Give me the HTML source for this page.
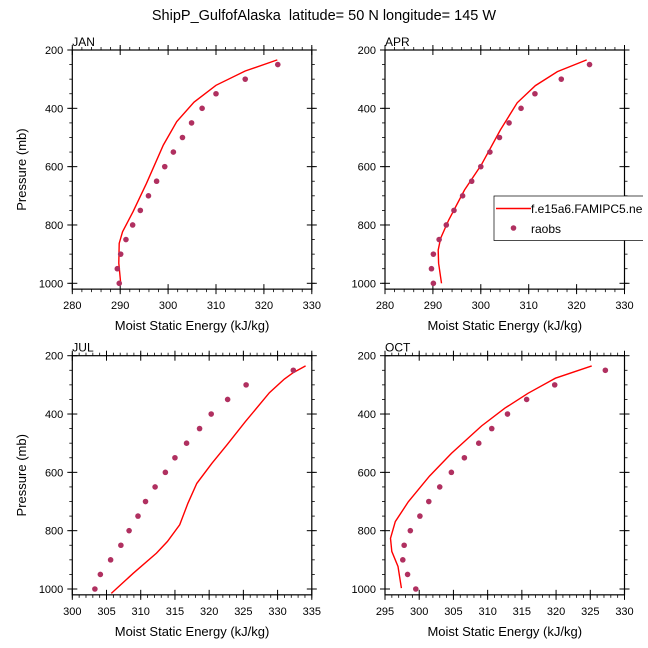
<!DOCTYPE html>
<html><head><meta charset="utf-8"><style>
html,body{margin:0;padding:0;background:#fff;}
svg{display:block;font-family:"Liberation Sans",Arial,sans-serif;}
</style></head><body>
<svg id="chart" width="648" height="648" viewBox="0 0 648 648">
<text x="324" y="20" text-anchor="middle" font-size="14.5">ShipP_GulfofAlaska&#160; latitude= 50 N longitude= 145 W</text>
</svg>
<script>
// ----- data -----
const obsP = [1000,950,900,850,800,750,700,650,600,550,500,450,400,350,300,250];
const janObs = [289.8,289.4,290.1,291.2,292.6,294.2,295.9,297.6,299.3,301.1,303.0,304.9,307.1,310.0,316.1,322.9];
const aprObs = [290.1,289.7,290.1,291.3,292.8,294.4,296.2,298.1,300.0,301.9,303.9,305.9,308.4,311.3,316.8,322.7];
const julObs = [303.3,304.1,305.6,307.1,308.3,309.6,310.7,312.1,313.6,315.0,316.7,318.6,320.3,322.7,325.4,332.3];
const octObs = [299.5,298.3,297.6,297.8,298.7,300.1,301.4,303.0,304.7,306.6,308.7,310.6,312.9,315.7,319.8,327.2];

const janModP = [234,272,321,379,446,526,657,754,823,863,931,1000];
const janMod  = [322.8,316.1,310.0,305.4,301.8,299.0,295.5,292.7,290.5,289.8,289.7,290.1];
const aprModP = [234,274,322,381,474,594,680,783,846,886,931,1000];
const aprMod  = [322.1,316.0,311.4,307.6,304.1,300.1,296.6,293.3,291.6,291.1,291.2,291.8];
const julModP = [235,258,280,327,426,506,569,638,706,780,837,877,946,1015];
const julMod  = [334.1,332.3,331.0,328.8,325.3,322.6,320.4,318.2,316.9,315.7,313.9,312.3,308.9,305.7];
const octModP = [235,277,329,380,441,535,613,701,769,826,871,923,997];
const octMod  = [325.2,319.9,315.9,312.5,309.1,304.7,301.5,298.4,296.5,295.8,296.0,296.9,297.4];

const yTicks = [200,400,600,800,1000];
const janXTicks = [280,290,300,310,320,330];
const julXTicks = [300,305,310,315,320,325,330,335];
const octXTicks = [295,300,305,310,315,320,325,330];

const svg = document.getElementById('chart');
const NS = 'http://www.w3.org/2000/svg';
function mk(tag, attrs, parent){const e=document.createElementNS(NS,tag);for(const k in attrs)e.setAttribute(k,attrs[k]);(parent||svg).appendChild(e);return e;}

const panels = [
 {name:'jan',label:'JAN',left:72.3,top:50,xmin:280,xmax:330,xt:janXTicks,minor:2,obs:janObs,mp:janModP,mv:janMod,ytitle:true},
 {name:'apr',label:'APR',left:385,top:50,xmin:280,xmax:330,xt:janXTicks,minor:2,obs:aprObs,mp:aprModP,mv:aprMod,ytitle:false},
 {name:'jul',label:'JUL',left:72.3,top:355.7,xmin:300,xmax:335,xt:julXTicks,minor:1,obs:julObs,mp:julModP,mv:julMod,ytitle:true},
 {name:'oct',label:'OCT',left:385,top:355.7,xmin:295,xmax:330,xt:octXTicks,minor:1,obs:octObs,mp:octModP,mv:octMod,ytitle:false}
];
const W=239.5, PS=233.3/800;
panels.forEach(p=>{
  const g=mk('g',{});
  
  
  const sx=v=>p.left+(v-p.xmin)/(p.xmax-p.xmin)*W;
  const sy=v=>p.top+(v-200)*PS;
  const bottom=sy(1020), right=p.left+W;
  const cp=mk('clipPath',{id:'clip-'+p.name},g);
  mk('rect',{x:p.left,y:p.top,width:W,height:bottom-p.top},cp);
  for(let v=p.xmin;v<=p.xmax+1e-6;v+=p.minor){
    const x=sx(v);
    mk('line',{x1:x,x2:x,y1:bottom,y2:bottom+3,stroke:'#000','stroke-width':0.8},g);
    mk('line',{x1:x,x2:x,y1:p.top,y2:p.top-3,stroke:'#000','stroke-width':0.8},g);
  }
  for(let v=250;v<=1000;v+=50){
    const y=sy(v);
    mk('line',{x1:p.left,x2:p.left-3,y1:y,y2:y,stroke:'#000','stroke-width':0.8},g);
    mk('line',{x1:right,x2:right+3,y1:y,y2:y,stroke:'#000','stroke-width':0.8},g);
  }
  p.xt.forEach(v=>{
    const x=sx(v);
    mk('line',{x1:x,x2:x,y1:bottom-5,y2:bottom+5,stroke:'#000','stroke-width':1},g);
    mk('line',{x1:x,x2:x,y1:p.top-5,y2:p.top+5,stroke:'#000','stroke-width':1},g);
    const t=mk('text',{x:x,y:bottom+20,'text-anchor':'middle','font-size':11},g);
    t.textContent=v;
    
    
  });
  yTicks.forEach(v=>{
    const y=sy(v);
    mk('line',{x1:p.left-5,x2:p.left+5,y1:y,y2:y,stroke:'#000','stroke-width':1},g);
    mk('line',{x1:right-5,x2:right+5,y1:y,y2:y,stroke:'#000','stroke-width':1},g);
    const t=mk('text',{x:p.left-9,y:y+4,'text-anchor':'end','font-size':11},g);
    t.textContent=v;
    
    
  });
  mk('rect',{x:p.left,y:p.top,width:W,height:bottom-p.top,fill:'none',stroke:'#000','stroke-width':1.2},g);
  const pts=p.mp.map((pp,i)=>sx(p.mv[i]).toFixed(1)+','+sy(pp).toFixed(1)).join(' ');
  const pl=mk('polyline',{points:pts,fill:'none',stroke:'#ff0000','stroke-width':1.4,'clip-path':'url(#clip-'+p.name+')'},g);
  
  
  p.obs.forEach((v,i)=>{
    const c=mk('circle',{cx:sx(v),cy:sy(obsP[i]),r:2.8,fill:'#b03060'},g);
    
    
  });
  const lab=mk('text',{x:p.left,y:p.top-4,'font-size':12},g);
  lab.textContent=p.label;
  
  
  const xt=mk('text',{x:p.left+W/2,y:bottom+41,'text-anchor':'middle','font-size':13},g);
  xt.textContent='Moist Static Energy (kJ/kg)';
  
  
  if(p.ytitle){
    const cy=(p.top+bottom)/2;
    const yt=mk('text',{x:26,y:cy,'text-anchor':'middle','font-size':13,transform:'rotate(-90 26 '+cy+')'},g);
    yt.textContent='Pressure (mb)';
    
    
  }
});
const lg=mk('g',{});


const lcp=mk('clipPath',{id:'clip-leg'},lg);
mk('rect',{x:493,y:195,width:150,height:47},lcp);
const lgi=mk('g',{'clip-path':'url(#clip-leg)'},lg);
mk('rect',{x:494,y:196,width:150,height:44.5,fill:'#fff',stroke:'#000','stroke-width':0.7},lgi);
mk('line',{x1:496,x2:531,y1:208.5,y2:208.5,stroke:'#ff0000','stroke-width':1.4},lgi);
const lt1=mk('text',{x:531,y:213,'font-size':12},lgi);
lt1.textContent='f.e15a6.FAMIPC5.ne30_g16.cam5_1.001';


mk('circle',{cx:513.5,cy:228,r:2.8,fill:'#b03060'},lgi);
const lt2=mk('text',{x:531,y:233,'font-size':12},lgi);
lt2.textContent='raobs';


</script>
</body></html>
